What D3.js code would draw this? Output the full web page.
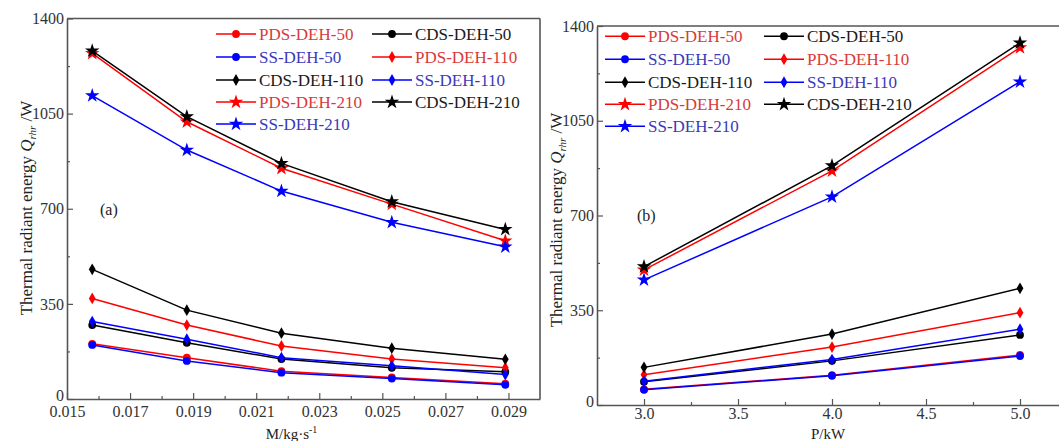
<!DOCTYPE html>
<html>
<head>
<meta charset="utf-8">
<script src="https://cdn.jsdelivr.net/npm/d3@7"></script>
<style>
  html, body { margin: 0; padding: 0; background: #fff; }
  svg { display: block; }
  text { font-family: "Liberation Serif", "Times New Roman", serif; }
</style>
</head>
<body>
<svg id="chart" width="1059" height="441"></svg>
<script>
// ---- data -------------------------------------------------------------
// panel (a): mass flow rate M (kg/s)
const massFlow = [0.0158, 0.0188, 0.0218, 0.0253, 0.0289];
// panel (b): power P (kW)
const power = [3.0, 4.0, 5.0];

const seriesNames = [
  "PDS-DEH-50", "CDS-DEH-50", "SS-DEH-50",
  "PDS-DEH-110", "CDS-DEH-110", "SS-DEH-110",
  "PDS-DEH-210", "CDS-DEH-210", "SS-DEH-210"
];
const legendOrder = [
  "PDS-DEH-50", "CDS-DEH-50",
  "SS-DEH-50", "PDS-DEH-110",
  "CDS-DEH-110", "SS-DEH-110",
  "PDS-DEH-210", "CDS-DEH-210",
  "SS-DEH-210"
];

// thermal radiant energy Q_rhr (W) vs mass flow
const massPDS50  = [203, 152, 102, 79, 56];
const massCDS50  = [272, 207, 147, 115, 100];
const massSS50   = [199, 140, 97, 75, 52];
const massPDS110 = [370, 272, 195, 147, 115];
const massCDS110 = [477, 327, 242, 187, 146];
const massSS110  = [285, 220, 152, 122, 90];
const massPDS210 = [1272, 1020, 849, 717, 582];
const massCDS210 = [1281, 1039, 867, 726, 624];
const massSS210  = [1116, 916, 765, 650, 560];

// thermal radiant energy Q_rhr (W) vs power
const powPDS50  = [58, 110, 185];
const powCDS50  = [86, 163, 259];
const powSS50   = [56, 108, 181];
const powPDS110 = [112, 214, 341];
const powCDS110 = [139, 262, 431];
const powSS110  = [88, 168, 280];
const powPDS210 = [499, 865, 1320];
const powCDS210 = [511, 884, 1338];
const powSS210  = [462, 769, 1194];

const massSeries = [massPDS50, massCDS50, massSS50, massPDS110, massCDS110, massSS110, massPDS210, massCDS210, massSS210];
const powSeries  = [powPDS50, powCDS50, powSS50, powPDS110, powCDS110, powSS110, powPDS210, powCDS210, powSS210];

const yTicks = [0, 350, 700, 1050, 1400];
const massTicks = [0.015, 0.017, 0.019, 0.021, 0.023, 0.025, 0.027, 0.029];
const powTicks = [3.0, 3.5, 4.0, 4.5, 5.0];

// ---- styling ----------------------------------------------------------
function lineColor(name) {
  if (name.startsWith("PDS")) return "#ff0000";
  if (name.startsWith("SS")) return "#0000ff";
  return "#000000";
}
function textColor(name) {
  if (name.startsWith("PDS")) return "#d83a3a";
  if (name.startsWith("SS")) return "#3a3ab8";
  return "#1a1a1a";
}
function markerPath(name) {
  if (name.endsWith("-50")) return d3.symbol(d3.symbolCircle, 48)();
  if (name.endsWith("-110")) return d3.symbol(d3.symbolDiamond, 40)();
  return d3.symbol(d3.symbolStar, 65)();
}

const svg = d3.select("#chart");

function drawPanel(cfg) {
  const { left, right, top, bottom, xDomain, xTickVals, xMinor, xFormat, xs, series, tag, tagPos, xTitle, yTitleX, yTitleY, legendX } = cfg;
  const x = d3.scaleLinear().domain(xDomain).range([left, right]);
  const y = d3.scaleLinear().domain([0, 1400]).range([bottom, top]);
  const g = svg.append("g");
  const axisColor = "#555";

  // frame: top and right edges
  g.append("line").attr("x1", left).attr("x2", right).attr("y1", top).attr("y2", top)
    .attr("stroke", axisColor).attr("stroke-width", 1.6);
  g.append("line").attr("x1", right).attr("x2", right).attr("y1", top).attr("y2", bottom)
    .attr("stroke", axisColor).attr("stroke-width", 1.6);

  // x axis
  const xAxis = d3.axisBottom(x).tickValues(xTickVals).tickFormat(xFormat).tickSizeInner(-6).tickSizeOuter(0).tickPadding(cfg.xPad);
  const xg = g.append("g").attr("transform", `translate(0,${bottom})`).call(xAxis);
  xg.select(".domain").attr("stroke", axisColor).attr("stroke-width", 1.6);
  xg.selectAll(".tick line").attr("stroke", axisColor).attr("stroke-width", 1.2);
  xg.selectAll(".tick text").attr("font-size", 16).attr("fill", "#333")
    .attr("font-family", "'Liberation Serif', serif");
  const xMinorAxis = d3.axisBottom(x).tickValues(xMinor).tickFormat("").tickSizeInner(-3).tickSizeOuter(0);
  const xmg = g.append("g").attr("transform", `translate(0,${bottom})`).call(xMinorAxis);
  xmg.select(".domain").remove();
  xmg.selectAll(".tick line").attr("stroke", axisColor).attr("stroke-width", 1.2);

  // y axis
  const yAxis = d3.axisLeft(y).tickValues(yTicks).tickFormat(d3.format("d")).tickSizeInner(-6).tickSizeOuter(0).tickPadding(3);
  const yg = g.append("g").attr("transform", `translate(${left},0)`).call(yAxis);
  yg.select(".domain").attr("stroke", axisColor).attr("stroke-width", 1.6);
  yg.selectAll(".tick line").attr("stroke", axisColor).attr("stroke-width", 1.2);
  yg.selectAll(".tick text").attr("font-size", 16).attr("fill", "#333")
    .attr("font-family", "'Liberation Serif', serif")
    .attr("dy", d => d === 0 ? "0.1em" : "0.32em");
  const yMinorAxis = d3.axisLeft(y).tickValues([175, 525, 875, 1225]).tickFormat("").tickSizeInner(-3).tickSizeOuter(0);
  const ymg = g.append("g").attr("transform", `translate(${left},0)`).call(yMinorAxis);
  ymg.select(".domain").remove();
  ymg.selectAll(".tick line").attr("stroke", axisColor).attr("stroke-width", 1.2);

  // series lines and markers
  const line = d3.line().x((d, i) => x(xs[i])).y(d => y(d));
  seriesNames.forEach((name, k) => {
    const vals = series[k];
    const col = lineColor(name);
    g.append("path").datum(vals).attr("d", line)
      .attr("fill", "none").attr("stroke", col).attr("stroke-width", 1.5);
    g.selectAll(null).data(vals).enter().append("path")
      .attr("d", markerPath(name))
      .attr("transform", (d, i) => `translate(${x(xs[i])},${y(d)})`)
      .attr("fill", col);
  });

  // legend (two columns, row-major)
  const rowY = [34, 57, 80, 102, 124].map(v => v + (top - 18.5) * 0.3);
  legendOrder.forEach((name, i) => {
    const row = Math.floor(i / 2), colIdx = i % 2;
    const lx = legendX[colIdx];
    const ly = rowY[row];
    const col = lineColor(name);
    g.append("line").attr("x1", lx).attr("x2", lx + 40).attr("y1", ly).attr("y2", ly)
      .attr("stroke", col).attr("stroke-width", 1.5);
    g.append("path").attr("d", markerPath(name)).attr("transform", `translate(${lx + 20},${ly})`).attr("fill", col);
    g.append("text").attr("x", lx + 43).attr("y", ly + 6).attr("font-size", 17)
      .attr("fill", textColor(name)).text(name);
  });

  // panel tag
  g.append("text").attr("x", tagPos[0]).attr("y", tagPos[1]).attr("font-size", 16).attr("fill", "#222").text(tag);

  // x title
  const xt = g.append("text").attr("x", (left + Math.min(right, 1059)) / 2 + cfg.xTitleShift).attr("y", 439)
    .attr("text-anchor", "middle").attr("font-size", 15).attr("fill", "#222");
  xTitle(xt);

  // y title
  const yt = g.append("text").attr("transform", `translate(${yTitleX},${yTitleY}) rotate(-90)`)
    .attr("text-anchor", "middle").attr("font-size", 17).attr("fill", "#222");
  yt.append("tspan").text("Thermal radiant energy ");
  yt.append("tspan").attr("font-style", "italic").text("Q");
  yt.append("tspan").attr("font-style", "italic").attr("font-size", 11).attr("dy", 4).text("rhr");
  yt.append("tspan").attr("dy", -4).text(" /W");
}

drawPanel({
  left: 67, right: 540, top: 18.5, bottom: 399,
  xDomain: [0.015, 0.030], xTickVals: massTicks,
  xMinor: [0.016, 0.018, 0.020, 0.022, 0.024, 0.026, 0.028],
  xFormat: d3.format(".3f"), xs: massFlow, series: massSeries,
  xPad: 7,
  tag: "(a)", tagPos: [100, 215],
  xTitle: t => {
    t.append("tspan").text("M/kg·s");
    t.append("tspan").attr("font-size", 10).attr("dy", -6).text("-1");
  },
  xTitleShift: -12,
  yTitleX: 32, yTitleY: 208,
  legendX: [216, 372]
});

drawPanel({
  left: 597, right: 1067, top: 26, bottom: 405,
  xDomain: [2.75, 5.25], xTickVals: powTicks,
  xMinor: [3.25, 3.75, 4.25, 4.75],
  xFormat: d3.format(".1f"), xs: power, series: powSeries,
  xPad: 3,
  tag: "(b)", tagPos: [637, 221],
  xTitle: t => { t.append("tspan").text("P/kW"); },
  xTitleShift: 0,
  yTitleX: 562, yTitleY: 220,
  legendX: [605, 764]
});
</script>
</body>
</html>
